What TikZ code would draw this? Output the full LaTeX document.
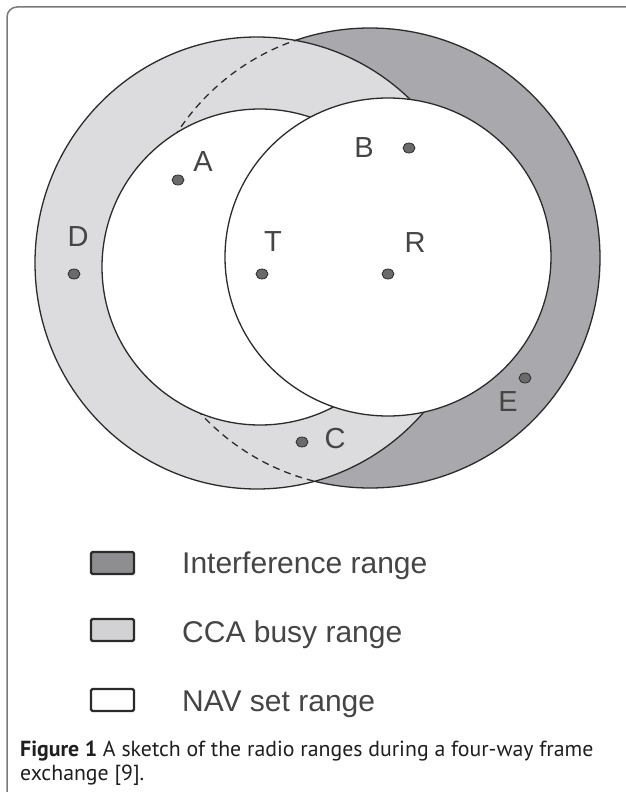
\documentclass[tikz,border=0pt]{standalone}
\usepackage{fontspec}
\setmainfont{Liberation Sans}
\newfontfamily\capfont{PT Sans}
\usetikzlibrary{shapes.geometric}
\definecolor{darkband}{HTML}{A9A9AD}
\definecolor{lightband}{HTML}{DCDCDE}
\definecolor{inkline}{HTML}{2B2B2B}
\definecolor{labelgray}{HTML}{454545}
\definecolor{framegray}{HTML}{7A7A7A}
\definecolor{legdark}{HTML}{8E8E91}
\definecolor{leglight}{HTML}{D2D2D4}
\definecolor{dotgray}{HTML}{6A6A6A}
\begin{document}
\begin{tikzpicture}[x=1pt,y=-1pt,
  rangeline/.style={draw=inkline, line width=1.3pt},
  dotmark/.style={ellipse, minimum width=12pt, minimum height=10pt, inner sep=0pt, fill=dotgray, draw=inkline, line width=0.8pt},
  lab/.style={text=labelgray, font=\fontsize{29}{34}\selectfont, inner sep=0pt},
  legbox/.style={draw=inkline, line width=2.2pt, rounded corners=1.5pt, minimum width=43pt, minimum height=22pt, inner sep=0pt},
  legtext/.style={anchor=base west, text=labelgray, font=\fontsize{30}{35}\selectfont, inner sep=0pt},
  captext/.style={anchor=base west, text=black!88, font=\capfont\fontsize{21.8}{26}\selectfont, inner sep=0pt}]
\useasboundingbox (0,0) rectangle (626,792);
\fill[white] (0,0) rectangle (626,792);
% frame
\draw[framegray, line width=1.5pt, rounded corners=10pt] (626,7) -- (7,7) -- (7,792);
% interference range (around R)
\path[rangeline, fill=darkband] (370,258) circle [radius=230pt];
% CCA busy range (around T)
\path[rangeline, fill=lightband] (257,263) ellipse [x radius=222pt, y radius=226pt];
% hidden part of the interference boundary
\begin{scope}
  \clip (257,263) ellipse [x radius=222pt, y radius=226pt];
  \draw[inkline, line width=1.3pt, dash pattern=on 7pt off 5pt] (370,258) circle [radius=230pt];
\end{scope}
% NAV set ranges
\path[rangeline, fill=white] (260,267) circle [radius=158pt];
\path[rangeline, fill=white] (388,257) ellipse [x radius=163pt, y radius=159pt];
% stations
\node[dotmark] (dA) at (178,180) {};
\node[dotmark] (dB) at (409,148) {};
\node[dotmark] (dC) at (302,442) {};
\node[dotmark] (dD) at (74,274) {};
\node[dotmark] (dE) at (525,378) {};
\node[dotmark] (dT) at (262,274) {};
\node[dotmark] (dR) at (388,274) {};
\node[lab] (lA) at (203,162) {A};
\node[lab] (lB) at (364,148) {B};
\node[lab] (lC) at (335,439) {C};
\node[lab] (lD) at (78,237) {D};
\node[lab] (lE) at (508,402) {E};
\node[lab] (lT) at (273,242) {T};
\node[lab] (lR) at (415,243) {R};
% legend
\node[legbox, fill=legdark] (k1) at (112.5,563) {};
\node[legbox, fill=leglight] (k2) at (112.5,630) {};
\node[legbox, fill=white] (k3) at (112.5,700) {};
\node[legtext] (t1) at (182,573) {Interference range};
\node[legtext] (t2) at (182,642) {CCA busy range};
\node[legtext] (t3) at (182,711) {NAV set range};
% caption
\node[captext] (cap1) at (20,756) {\textbf{Figure 1} A sketch of the radio ranges during a four-way frame};
\node[captext] (cap2) at (20,780) {exchange [9].};
\end{tikzpicture}
\end{document}
